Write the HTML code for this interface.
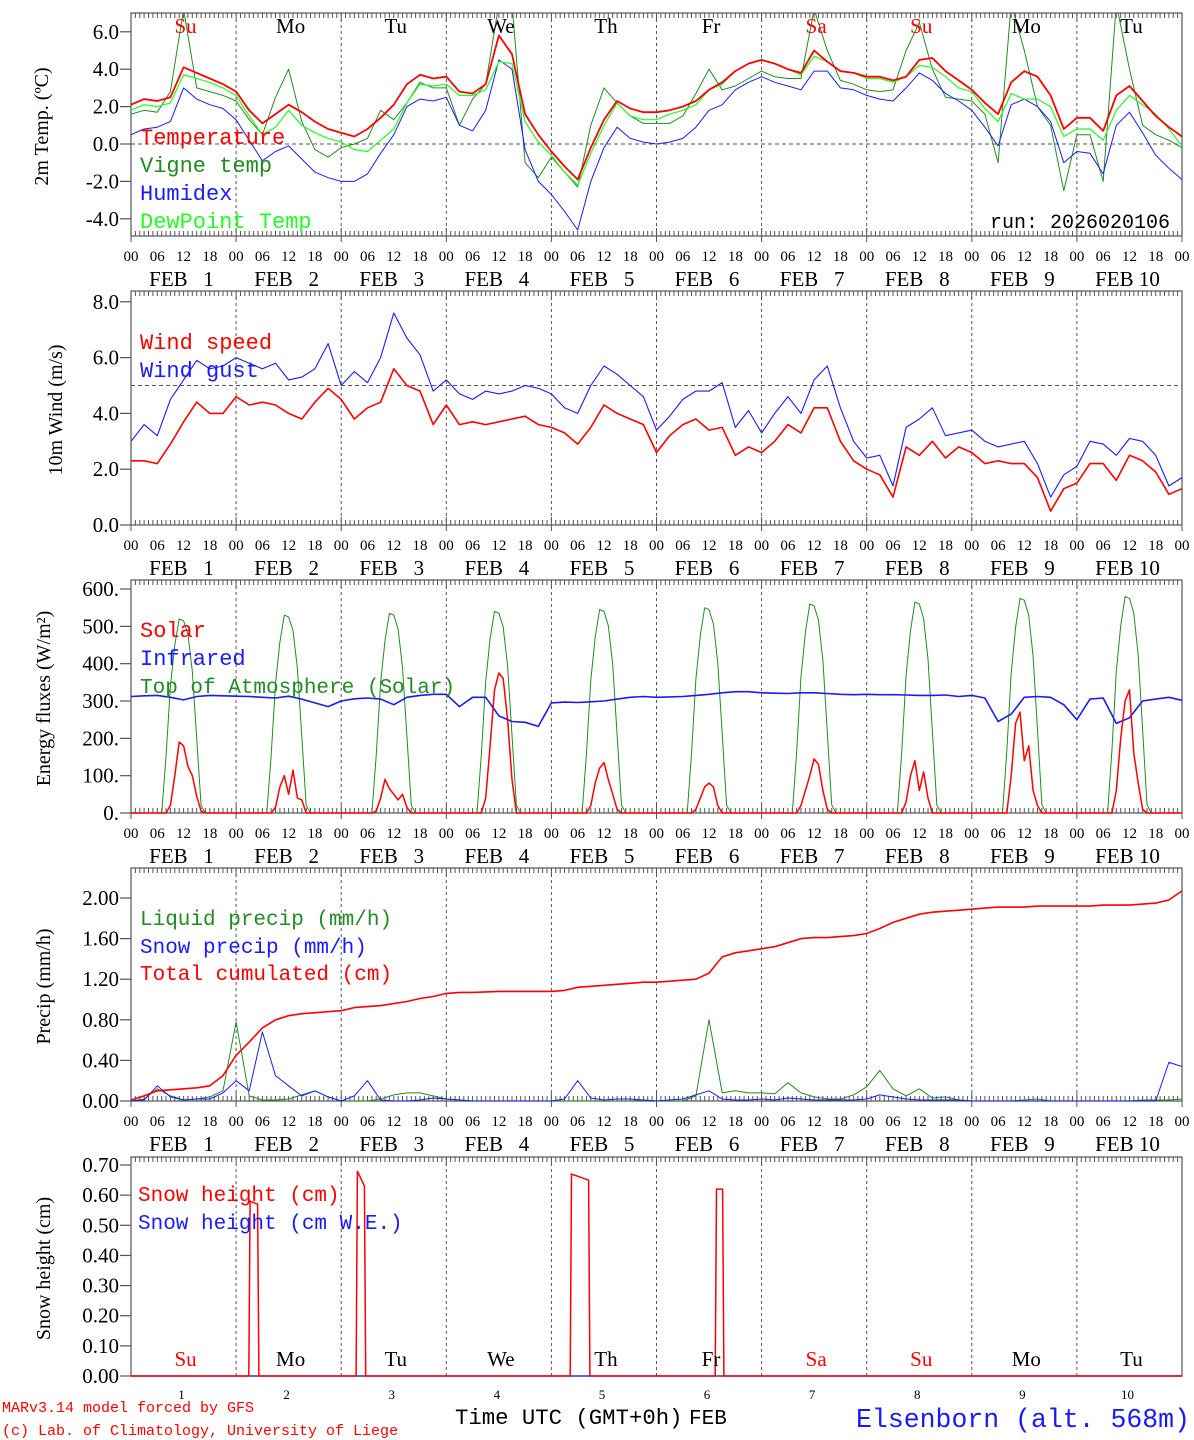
<!DOCTYPE html>
<html><head><meta charset="utf-8"><style>
html,body{margin:0;padding:0;background:#fff;}
svg{display:block;}
</style></head><body>
<svg id="chart" xmlns="http://www.w3.org/2000/svg" width="1194" height="1440" viewBox="0 0 1194 1440"></svg>
<script>
// ---- data (3-hourly from Feb 1 00 UTC, 81 points) ----
const dayNames = ["Su","Mo","Tu","We","Th","Fr","Sa","Su","Mo","Tu"];
const dayColors = ["red","black","black","black","black","black","red","red","black","black"];
const tempT = [2.1,2.4,2.3,2.5,4.1,3.8,3.5,3.2, 2.8,1.8,1.1,1.6,2.1,1.7,1.2,0.8, 0.6,0.4,0.8,1.4,2.1,3.2,3.7,3.5, 3.6,2.8,2.7,3.2,5.8,4.8,1.6,0.5, -0.4,-1.2,-1.9,-0.2,1.3,2.3,1.9,1.7, 1.7,1.8,2.0,2.3,2.9,3.3,3.9,4.3, 4.5,4.3,4.0,3.8,5.0,4.4,3.9,3.8, 3.6,3.6,3.4,3.6,4.5,4.6,3.9,3.4, 2.9,2.2,1.6,3.3,3.9,3.6,2.6,0.8, 1.4,1.4,0.7,2.6,3.1,2.3,1.5,0.9, 0.4];
const tempVigne = [1.6,1.8,1.7,2.8,7.2,3.0,2.8,2.6, 2.3,1.3,0.5,2.5,4.0,1.2,-0.3,-0.7, -0.2,0.0,0.3,1.8,1.3,2.2,3.3,3.0, 3.0,1.0,2.4,3.2,7.5,7.5,-1.0,-1.8, -0.7,-1.5,-2.3,1.0,3.0,2.2,1.5,1.1, 1.1,1.1,1.5,2.7,4.0,2.9,3.1,3.5, 3.9,3.6,3.5,3.5,7.2,5.0,3.4,3.2, 2.9,2.8,2.9,5.0,6.5,4.0,2.5,2.4, 2.3,1.6,-1.0,7.5,5.0,2.0,1.0,-2.5, 0.5,0.5,-2.0,7.5,4.0,1.0,0.5,0.2, -0.2];
const tempHumidex = [0.5,0.8,0.9,1.2,3.0,2.4,2.1,1.9, 1.3,0.2,-0.9,-0.4,-0.1,-0.8,-1.5,-1.8, -2.0,-2.0,-1.6,-0.5,0.5,2.0,2.4,2.3, 2.5,1.0,0.7,1.8,4.5,4.0,-0.3,-2.0, -2.7,-3.6,-4.6,-2.0,-0.2,0.9,0.3,0.1, 0.0,0.1,0.3,0.9,1.8,2.1,2.9,3.3, 3.6,3.3,3.1,2.9,3.9,3.9,3.0,2.9, 2.6,2.4,2.3,3.0,3.8,3.4,2.7,2.3, 1.8,0.9,-0.1,2.1,2.4,2.0,1.2,-1.0, -0.4,-0.5,-1.6,1.0,1.7,0.6,-0.6,-1.3, -1.9];
const tempDew = [1.8,2.1,2.0,2.2,3.7,3.5,3.3,3.0, 2.6,1.5,0.5,0.9,1.8,1.0,0.6,0.3, 0.1,-0.3,-0.4,0.2,0.8,2.2,3.2,3.1, 3.2,2.6,2.6,2.9,4.4,4.3,1.2,0.1, -0.6,-1.5,-2.2,-0.5,1.0,2.2,1.5,1.3, 1.3,1.6,1.8,2.1,2.9,3.2,3.9,4.3, 4.5,4.3,4.0,3.7,4.7,4.4,3.9,3.8, 3.5,3.5,3.3,3.6,4.2,4.1,3.6,3.0, 2.8,1.9,1.2,2.7,2.4,2.4,2.0,0.4, 0.8,0.8,0.2,1.8,2.6,2.1,1.6,0.8, -0.1];
const windSpeed = [2.3,2.3,2.2,2.9,3.7,4.4,4.0,4.0, 4.6,4.3,4.4,4.3,4.0,3.8,4.4,4.9, 4.5,3.8,4.2,4.4,5.6,5.0,4.8,3.6, 4.3,3.6,3.7,3.6,3.7,3.8,3.9,3.6, 3.5,3.3,2.9,3.5,4.3,4.0,3.8,3.6, 2.6,3.2,3.6,3.8,3.4,3.5,2.5,2.8, 2.6,3.0,3.6,3.3,4.2,4.2,3.0,2.3, 2.0,1.8,1.0,2.8,2.5,3.0,2.4,2.8, 2.6,2.2,2.3,2.2,2.2,1.7,0.5,1.3, 1.5,2.2,2.2,1.6,2.5,2.3,1.9,1.1, 1.3];
const windGust = [3.0,3.6,3.2,4.5,5.2,5.9,5.6,5.7, 6.0,5.8,5.6,5.8,5.2,5.3,5.6,6.5, 5.0,5.5,5.1,6.0,7.6,6.7,6.1,4.8, 5.2,4.7,4.5,4.8,4.7,4.8,5.0,4.9, 4.7,4.2,4.0,5.0,5.7,5.4,5.0,4.6, 3.4,3.9,4.5,4.8,4.8,5.1,3.5,4.1, 3.3,4.0,4.6,4.0,5.2,5.7,4.2,3.0, 2.4,2.5,1.4,3.5,3.8,4.2,3.2,3.3, 3.4,3.0,2.8,2.9,3.0,2.2,1.0,1.8, 2.1,3.0,2.9,2.5,3.1,3.0,2.5,1.4, 1.7];
// hourly daytime values 07..17 UTC for each day
const solarHours = [7,8,9,10,11,12,13,14,15,16,17];
const solarDays = [
 [0,0,20,100,190,180,125,100,45,5,0],
 [0,0,15,70,100,50,115,40,35,0,0],
 [0,5,40,90,65,50,35,50,15,0,0],
 [0,0,40,180,330,375,360,250,90,0,0],
 [0,0,20,80,120,135,90,50,10,0,0],
 [0,0,10,40,70,80,70,20,0,0,0],
 [0,0,20,60,100,145,130,60,10,0,0],
 [0,0,30,100,140,60,110,40,0,0,0],
 [0,0,100,240,270,140,180,60,20,0,0],
 [0,0,60,200,300,330,160,80,10,0,0]];
const toaDays = [
 [0,150,340,450,520,515,480,380,200,20,0],
 [0,152,346,458,530,525,489,387,204,20,0],
 [0,154,349,462,535,530,493,390,206,21,0],
 [0,155,352,467,540,535,498,394,208,21,0],
 [0,157,356,471,545,540,502,398,210,21,0],
 [0,158,359,475,550,545,507,401,212,21,0],
 [0,161,366,484,560,555,516,409,216,22,0],
 [0,162,369,488,565,560,521,412,218,22,0],
 [0,165,375,497,575,570,530,420,222,22,0],
 [0,167,379,501,580,575,535,423,224,22,0]];
const infrared = [312,314,315,310,303,312,315,314, 313,312,310,308,313,305,295,285, 300,306,308,305,290,310,315,318, 318,285,310,310,260,245,243,232, 295,297,296,298,300,305,310,312, 310,311,312,315,318,322,325,325, 322,321,320,322,322,320,318,317, 318,317,317,316,315,315,316,312, 315,308,245,265,310,312,310,290, 250,305,308,240,255,300,305,310, 302];
const precipLiquid = [0,0.02,0.12,0.05,0.01,0.02,0.04,0.10, 0.78,0.05,0.01,0.01,0.02,0.06,0.10,0.04, 0,0,0,0.02,0.06,0.08,0.08,0.05, 0.02,0.01,0,0,0,0,0,0, 0,0,0,0,0,0,0,0.01, 0,0,0,0.05,0.80,0.08,0.10,0.08, 0.08,0.07,0.18,0.08,0.04,0.02,0.02,0.06, 0.14,0.30,0.12,0.05,0.12,0.03,0.04,0.01, 0,0,0,0,0.01,0.02,0,0, 0,0,0,0,0,0.01,0.01,0.01, 0.02];
const precipSnow = [0,0.01,0.15,0.04,0.01,0.02,0.02,0.08, 0.20,0.10,0.68,0.25,0.15,0.05,0.10,0.04, 0,0.05,0.20,0.01,0,0,0.01,0.03, 0.02,0.01,0,0,0,0,0,0, 0,0.02,0.20,0.03,0.01,0.02,0.02,0.01, 0,0.01,0.02,0.06,0.10,0.02,0.01,0.01, 0.02,0.01,0.03,0.02,0.01,0.01,0.01,0.01, 0.02,0.06,0.04,0.02,0.01,0.01,0.01,0.01, 0,0,0,0,0,0,0,0, 0,0,0,0,0,0,0,0.38, 0.34];
const precipCum = [0.01,0.05,0.10,0.11,0.12,0.13,0.15,0.25, 0.45,0.58,0.72,0.80,0.84,0.86,0.87,0.88, 0.89,0.92,0.93,0.94,0.96,0.98,1.01,1.03, 1.06,1.07,1.07,1.075,1.08,1.08,1.08,1.08, 1.08,1.09,1.12,1.13,1.14,1.15,1.16,1.17, 1.17,1.18,1.19,1.20,1.26,1.42,1.46,1.48, 1.50,1.52,1.56,1.60,1.61,1.61,1.62,1.63, 1.65,1.70,1.76,1.80,1.84,1.86,1.87,1.88, 1.89,1.90,1.91,1.91,1.91,1.92,1.92,1.92, 1.92,1.92,1.93,1.93,1.93,1.94,1.95,1.98, 2.07];
// snow height pulses: start hour, end hour, value at start, value at end
const snowStart = [27.2,51.7,100.6,133.7];
const snowEnd = [28.9,53.3,104.5,135.1];
const snowValStart = [0.58,0.68,0.67,0.62];
const snowValEnd = [0.57,0.63,0.65,0.62];

// ---- helpers ----
const NS = "http://www.w3.org/2000/svg";
const svg = document.getElementById("chart");
const X0 = 131, X1 = 1182, HOURS = 240;
const MONO = '"Liberation Mono", monospace';
function xh(h){ return X0 + h*(X1-X0)/HOURS; }
function mk(tag, attrs, name, parent){
  const el = document.createElementNS(NS, tag);
  for (const k in attrs) el.setAttribute(k, attrs[k]);
  
  
  (parent||svg).appendChild(el);
  return el;
}
function txt(x,y,s,name,opt){
  opt = opt||{};
  const t = mk("text",{x:x,y:y,"font-family":opt.ff||'"Liberation Serif", serif',"font-size":opt.fs||18,fill:opt.fill||"#000","text-anchor":opt.anchor||"start"},name);
  if (opt.transform) t.setAttribute("transform",opt.transform);
  if (opt.ls) t.setAttribute("letter-spacing",opt.ls);
  t.textContent = s;
  return t;
}
const panels = [
 {top:13,bottom:236,ticks:[-4,-2,0,2,4,6],fmt:v=>v.toFixed(1),title:"2m Temp. (ºC)",tx:48,name:"temp"},
 {top:291,bottom:525,ticks:[0,2,4,6,8],fmt:v=>v.toFixed(1),title:"10m Wind (m/s)",tx:62,name:"wind"},
 {top:580,bottom:813,ticks:[0,100,200,300,400,500,600],fmt:v=>v+".",title:"Energy fluxes (W/m²)",tx:50,name:"energy"},
 {top:868,bottom:1101,ticks:[0,0.4,0.8,1.2,1.6,2.0],fmt:v=>v.toFixed(2),title:"Precip (mm/h)",tx:50,name:"precip"},
 {top:1157,bottom:1376,ticks:[0,0.1,0.2,0.3,0.4,0.5,0.6,0.7],fmt:v=>v.toFixed(2),title:"Snow height (cm)",tx:50,name:"snow"}
];
panels[0].y = v => 144 - 18.7*v;
panels[1].y = v => 525 - 27.9*v;
panels[2].y = v => 813 - 0.3733*v;
panels[3].y = v => 1101 - 101.5*v;
panels[4].y = v => 1376 - 301.4*v;

function series(p, vals, color, name, w, parent){
  let d = "";
  vals.forEach((v,i)=>{ d += (i?"L":"M") + xh(i*3).toFixed(1) + "," + p.y(v).toFixed(1); });
  return mk("path",{d:d,fill:"none",stroke:color,"stroke-width":w||1.2,"stroke-linejoin":"round"},name,parent);
}

panels.forEach((p,pi)=>{
  const g = mk("g",{},"panel-"+p.name);
  mk("rect",{x:X0,y:p.top,width:X1-X0,height:p.bottom-p.top,fill:"none",stroke:"#555","stroke-width":1.2},p.name+"-frame",g);
  let dt = "";
  for (let h=0; h<=HOURS; h++){
    const x = xh(h).toFixed(1);
    const L = (h%24===0)?8:5;
    dt += "M"+x+","+p.top+"v"+L;
    if (pi<4) dt += "M"+x+","+p.bottom+"v-"+L;
    if (h%24===0 && pi<4) dt += "M"+x+","+p.bottom+"v6";
  }
  mk("path",{d:dt,stroke:"#555","stroke-width":1},p.name+"-x-ticks",g);
  for (let d=1; d<10; d++){
    mk("line",{x1:xh(d*24),x2:xh(d*24),y1:p.top,y2:p.bottom,stroke:"#555","stroke-width":1,"stroke-dasharray":"3,3"},p.name+"-day-line",g);
  }
  p.ticks.forEach(v=>{
    const y = p.y(v);
    mk("line",{x1:X0-11,x2:X0,y1:y,y2:y,stroke:"#555","stroke-width":1.2},p.name+"-y-tick",g);
    txt(X0-12,y+7,p.fmt(v),p.name+"-y-tick-label",{anchor:"end",fs:21});
  });
  const cy = (p.top+p.bottom)/2+2;
  txt(p.tx,cy,p.title,p.name+"-y-axis-title",{anchor:"middle",fs:20,transform:"rotate(-90 "+p.tx+" "+cy+")"});
  if (pi<4){
    for (let h=0; h<=HOURS; h+=6){
      txt(xh(h),p.bottom+25,String(h%24).padStart(2,"0"),p.name+"-x-tick-label",{anchor:"middle",fs:15});
    }
    for (let d=0; d<10; d++){
      const lab = d<9 ? "FEB\u00a0\u00a0\u00a0"+(d+1) : "FEB\u00a010";
      txt(xh(d*24+12)-2,p.bottom+50,lab,p.name+"-date-label",{anchor:"middle",fs:21});
    }
  }
});

// ---- panel 1: temperature ----
const P1 = panels[0];
mk("line",{x1:X0,x2:X1,y1:P1.y(0),y2:P1.y(0),stroke:"#555","stroke-width":1,"stroke-dasharray":"4,3"},"temp-zero-line");
const clip1 = mk("clipPath",{id:"c1"},"temp-clip");
mk("rect",{x:X0,y:P1.top,width:X1-X0,height:P1.bottom-P1.top},"temp-clip-rect",clip1);
const gT = mk("g",{"clip-path":"url(#c1)"},"temp-series");
series(P1,tempVigne,"#228B22","vigne-temp-line",1,gT);
series(P1,tempHumidex,"#1a1aff","humidex-line",1,gT);
series(P1,tempDew,"#22ff22","dewpoint-line",1.2,gT);
series(P1,tempT,"#ff0000","temperature-line",1.8,gT);
dayNames.forEach((n,d)=>{ txt(xh(d*24+12)+2,33,n,"day-label-top",{anchor:"middle",fs:21,fill:dayColors[d]}); });
txt(140,144,"Temperature","legend-temperature",{ff:MONO,fs:22,fill:"#ff0000"});
txt(140,172,"Vigne temp","legend-vigne-temp",{ff:MONO,fs:22,fill:"#228B22"});
txt(140,200,"Humidex","legend-humidex",{ff:MONO,fs:22,fill:"#1a1aff"});
txt(140,228,"DewPoint Temp","legend-dewpoint",{ff:MONO,fs:22,fill:"#22ff22"});
txt(1170,228,"run: 2026020106","run-label",{ff:MONO,fs:20,anchor:"end"});

// ---- panel 2: wind ----
const P2 = panels[1];
mk("line",{x1:X0,x2:X1,y1:P2.y(5),y2:P2.y(5),stroke:"#555","stroke-width":1,"stroke-dasharray":"4,3"},"wind-reference-line");
series(P2,windGust,"#1a1aff","wind-gust-line",1.1);
series(P2,windSpeed,"#ff0000","wind-speed-line",1.6);
txt(140,349,"Wind speed","legend-wind-speed",{ff:MONO,fs:22,fill:"#ff0000"});
txt(140,377,"Wind gust","legend-wind-gust",{ff:MONO,fs:22,fill:"#1a1aff"});

// ---- panel 3: energy ----
const P3 = panels[2];
function dayCurve(vals, color, name, w){
  let d = "M"+X0+","+P3.y(0);
  for (let day=0; day<10; day++){
    solarHours.forEach((h,j)=>{ d += "L"+xh(day*24+h).toFixed(1)+","+P3.y(vals[day][j]).toFixed(1); });
  }
  d += "L"+X1+","+P3.y(0);
  return mk("path",{d:d,fill:"none",stroke:color,"stroke-width":w,"stroke-linejoin":"round"},name);
}
dayCurve(toaDays,"#228B22","toa-solar-line",1);
series(P3,infrared,"#1a1aff","infrared-line",1.6);
dayCurve(solarDays,"#ff0000","solar-line",1.5);
txt(140,637,"Solar","legend-solar",{ff:MONO,fs:22,fill:"#ff0000"});
txt(140,665,"Infrared","legend-infrared",{ff:MONO,fs:22,fill:"#1a1aff"});
txt(140,693,"Top of Atmosphere (Solar)","legend-toa",{ff:MONO,fs:21,fill:"#228B22"});

// ---- panel 4: precip ----
const P4 = panels[3];
series(P4,precipLiquid,"#228B22","liquid-precip-line",1);
series(P4,precipSnow,"#1a1aff","snow-precip-line",1);
series(P4,precipCum,"#ff0000","total-cumulated-line",1.6);
txt(140,925,"Liquid precip (mm/h)","legend-liquid-precip",{ff:MONO,fs:21,fill:"#228B22"});
txt(140,953,"Snow precip (mm/h)","legend-snow-precip",{ff:MONO,fs:21,fill:"#1a1aff"});
txt(140,980,"Total cumulated (cm)","legend-total-cumulated",{ff:MONO,fs:21,fill:"#ff0000"});

// ---- panel 5: snow height ----
const P5 = panels[4];
mk("line",{x1:X0,x2:X1,y1:P5.y(0),y2:P5.y(0),stroke:"#1a1aff","stroke-width":1.2},"snow-we-line");
let sd = "M"+X0+","+P5.y(0);
snowStart.forEach((s,i)=>{
  sd += "L"+xh(s-0.3).toFixed(1)+","+P5.y(0)+"L"+xh(s).toFixed(1)+","+P5.y(snowValStart[i]).toFixed(1)+"L"+xh(snowEnd[i]).toFixed(1)+","+P5.y(snowValEnd[i]).toFixed(1)+"L"+xh(snowEnd[i]+0.3).toFixed(1)+","+P5.y(0);
});
sd += "L"+X1+","+P5.y(0);
mk("path",{d:sd,fill:"none",stroke:"#ff0000","stroke-width":1.5},"snow-height-line");
txt(138,1201,"Snow height (cm)","legend-snow-height",{ff:MONO,fs:21,fill:"#ff0000"});
txt(138,1229,"Snow height (cm W.E.)","legend-snow-height-we",{ff:MONO,fs:21,fill:"#1a1aff"});
dayNames.forEach((n,d)=>{ txt(xh(d*24+12)+2,1366,n,"day-label-bottom",{anchor:"middle",fs:21,fill:dayColors[d]}); });
for (let d=0; d<10; d++){ txt(xh(d*24+12)-2,1399,String(d+1),"day-number",{anchor:"middle",fs:13}); }
txt(455,1424,"Time UTC (GMT+0h)","x-axis-title",{ff:MONO,fs:22.3});
txt(689,1424,"FEB","x-axis-month",{ff:MONO,fs:21});
txt(1190,1427,"Elsenborn (alt. 568m)","station-title",{ff:MONO,fs:26.5,fill:"#1a1aff",anchor:"end"});
txt(2,1412,"MARv3.14 model forced by GFS","credit-model",{ff:MONO,fs:15,fill:"#ff0000"});
txt(2,1435,"(c) Lab. of Climatology, University of Liege","credit-lab",{ff:MONO,fs:15,fill:"#ff0000"});
</script>
</body></html>
